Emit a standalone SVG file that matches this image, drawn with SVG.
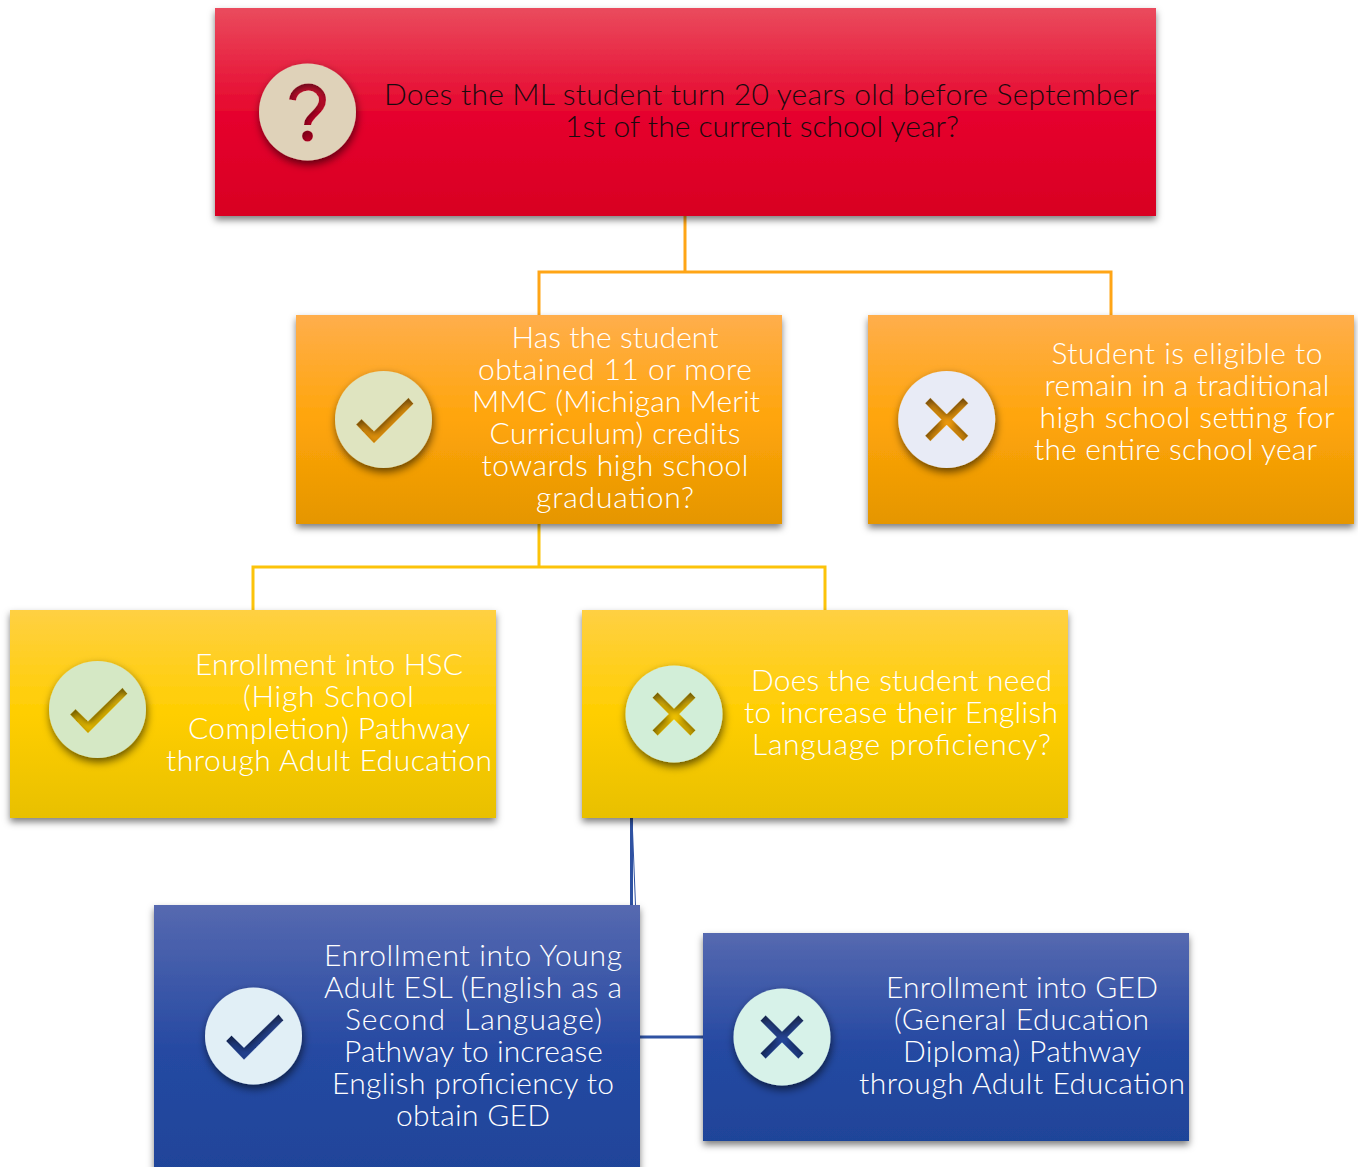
<svg xmlns="http://www.w3.org/2000/svg" width="1358" height="1167" viewBox="0 0 1358 1167">
<style>
text{font-family:"Lato","Liberation Sans",sans-serif;font-weight:300;font-size:30px;text-anchor:middle;fill:#fff}
.dark{fill:#1a0a0e}
.conn{fill:none;stroke-width:3}
</style>
<defs>
<linearGradient id="gr" x1="0" y1="0" x2="0" y2="1"><stop offset="0" stop-color="#ea4b5d"/><stop offset=".5" stop-color="#e6062e"/><stop offset="1" stop-color="#d80022"/></linearGradient>
<linearGradient id="go" x1="0" y1="0" x2="0" y2="1"><stop offset="0" stop-color="#ffae4c"/><stop offset=".5" stop-color="#ffa50a"/><stop offset="1" stop-color="#e59600"/></linearGradient>
<linearGradient id="gy" x1="0" y1="0" x2="0" y2="1"><stop offset="0" stop-color="#ffd043"/><stop offset=".5" stop-color="#ffce00"/><stop offset="1" stop-color="#e8c000"/></linearGradient>
<linearGradient id="gb" x1="0" y1="0" x2="0" y2="1"><stop offset="0" stop-color="#5669b0"/><stop offset=".55" stop-color="#2549a2"/><stop offset="1" stop-color="#1f4499"/></linearGradient>
<filter id="sb" x="-5%" y="-10%" width="110%" height="125%"><feDropShadow dx="0" dy="4" stdDeviation="3.500" flood-color="#000" flood-opacity=".5"/></filter>
<filter id="sc" x="-30%" y="-30%" width="160%" height="160%"><feDropShadow dx="1" dy="4" stdDeviation="4" flood-color="#000" flood-opacity=".6"/></filter>
<mask id="mq" maskUnits="userSpaceOnUse" x="-60" y="-60" width="120" height="120"><rect x="-60" y="-60" width="120" height="120" fill="#fff"/><path d="M-15 -12C-14 -20 -7 -25 1 -25C9 -25 15 -19 15 -12C15 -4 8 0 4 5C1 8 0 10 0 13" fill="none" stroke="#000" stroke-width="7"/><circle cx="0" cy="24" r="5.500" fill="#000"/></mask>
<mask id="mc" maskUnits="userSpaceOnUse" x="-60" y="-60" width="120" height="120"><rect x="-60" y="-60" width="120" height="120" fill="#fff"/><path d="M-27.500 5L-9.500 23.700L30 -15.700L25 -21.700L-9.500 11.700L-22 -.5Z" fill="#000"/></mask>
<mask id="mx" maskUnits="userSpaceOnUse" x="-60" y="-60" width="120" height="120"><rect x="-60" y="-60" width="120" height="120" fill="#fff"/><path d="M-19 -19L19 19M19 -19L-19 19" stroke="#000" stroke-width="7.500" fill="none"/></mask>
</defs>
<g id="connectors">
<path class="conn" stroke="#ffa516" d="M685 216V272M539 315V272H1111V315"/>
<path class="conn" stroke="#fcc30a" d="M539 524V567H253V610M539 567H825V610"/>
<path class="conn" stroke="#2f52a2" d="M631.500 818V905M640 1037H703"/>
<path fill="none" stroke="#2f52a2" stroke-width="1" d="M632 818L635.500 905"/>
</g>
<g id="n1">
<rect x="215" y="8" width="941" height="208" fill="url(#gr)" filter="url(#sb)"/>
<g filter="url(#sc)"><circle cx="0" cy="0" r="48.500" fill="#dfd2b9" mask="url(#mq)" transform="translate(307.500 112)"/></g>
<text class="dark" x="761.500" y="105" textLength="755">Does the ML student turn 20 years old before September</text>
<text class="dark" x="762" y="137" textLength="394">1st of the current school year?</text>
</g>
<g id="n2">
<rect x="296" y="315" width="486" height="209" fill="url(#go)" filter="url(#sb)"/>
<g filter="url(#sc)"><circle cx="0" cy="0" r="48.500" fill="#dfe4c0" mask="url(#mc)" transform="translate(383.500 419.500)"/></g>
<text x="615" y="348.300" textLength="207">Has the student</text>
<text x="615" y="380.300" textLength="274">obtained 11 or more</text>
<text x="616" y="412.300" textLength="288">MMC (Michigan Merit</text>
<text x="615" y="444.300" textLength="251">Curriculum) credits</text>
<text x="615" y="476.300" textLength="267">towards high school</text>
<text x="615" y="508.300" textLength="158">graduation?</text>
</g>
<g id="n3">
<rect x="868" y="315" width="486" height="209" fill="url(#go)" filter="url(#sb)"/>
<g filter="url(#sc)"><circle cx="0" cy="0" r="48.500" fill="#e8ebf6" mask="url(#mx)" transform="translate(946.700 419.500)"/></g>
<text x="1187" y="364.300" textLength="271">Student is eligible to</text>
<text x="1187" y="396.300" textLength="285">remain in a traditional</text>
<text x="1187" y="428.300" textLength="295">high school setting for</text>
<text x="1175.500" y="460.300" textLength="283">the entire school year</text>
</g>
<g id="n4">
<rect x="10" y="610" width="486" height="208" fill="url(#gy)" filter="url(#sb)"/>
<g filter="url(#sc)"><circle cx="0" cy="0" r="48.500" fill="#d5e8c5" mask="url(#mc)" transform="translate(97.500 709.500)"/></g>
<text x="329" y="675" textLength="268">Enrollment into HSC</text>
<text x="328.500" y="707" textLength="171">(High School</text>
<text x="329" y="739" textLength="282">Completion) Pathway</text>
<text x="329" y="771" textLength="326">through Adult Education</text>
</g>
<g id="n5">
<rect x="582" y="610" width="486" height="208" fill="url(#gy)" filter="url(#sb)"/>
<g filter="url(#sc)"><circle cx="0" cy="0" r="48.500" fill="#d2eed8" mask="url(#mx)" transform="translate(674 714)"/></g>
<text x="901.500" y="691" textLength="301">Does the student need</text>
<text x="901" y="723" textLength="314">to increase their English</text>
<text x="901.500" y="755" textLength="299">Language proficiency?</text>
</g>
<g id="n6">
<rect x="154" y="905" width="486" height="270" fill="url(#gb)" filter="url(#sb)"/>
<g filter="url(#sc)"><circle cx="0" cy="0" r="48.500" fill="#e1eff6" mask="url(#mc)" transform="translate(253.500 1036)"/></g>
<text x="473" y="966" textLength="298">Enrollment into Young</text>
<text x="473" y="998" textLength="298">Adult ESL (English as a</text>
<text x="473.500" y="1030" textLength="257" xml:space="preserve">Second  Language)</text>
<text x="473.500" y="1062" textLength="259">Pathway to increase</text>
<text x="473" y="1094" textLength="282">English proficiency to</text>
<text x="473" y="1126" textLength="154">obtain GED</text>
</g>
<g id="n7">
<rect x="703" y="933" width="486" height="208" fill="url(#gb)" filter="url(#sb)"/>
<g filter="url(#sc)"><circle cx="0" cy="0" r="48.500" fill="#d7f2e9" mask="url(#mx)" transform="translate(782 1037)"/></g>
<text x="1022" y="998" textLength="272">Enrollment into GED</text>
<text x="1021.500" y="1030" textLength="255">(General Education</text>
<text x="1022" y="1062" textLength="238">Diploma) Pathway</text>
<text x="1022" y="1094" textLength="326">through Adult Education</text>
</g>
</svg>
